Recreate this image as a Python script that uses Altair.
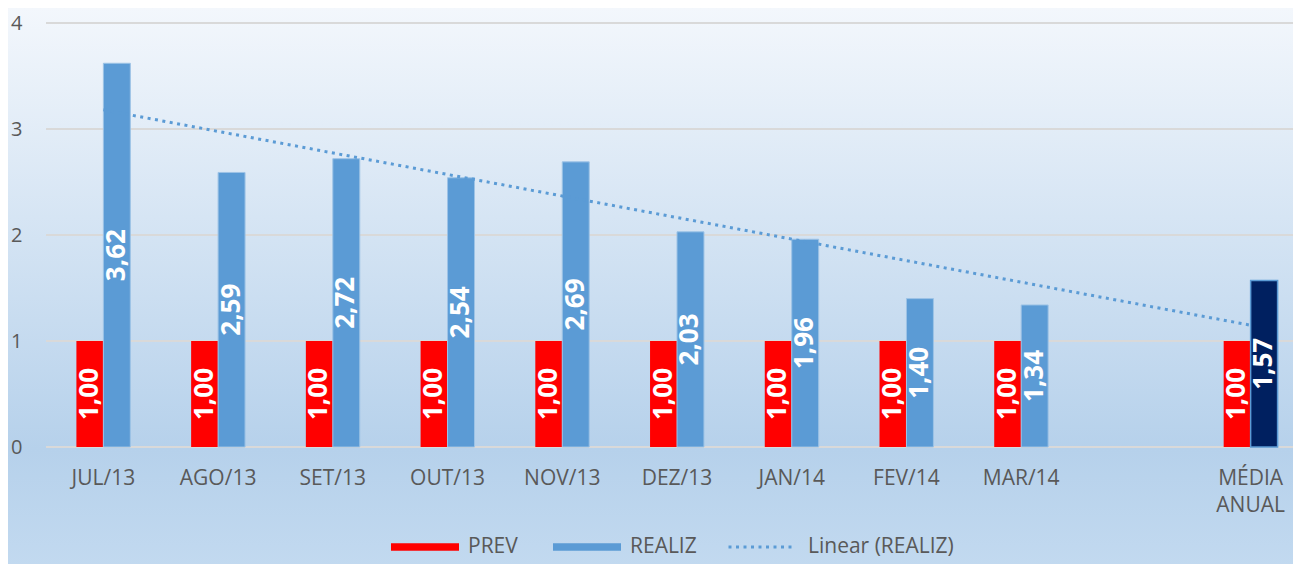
import altair as alt
import numpy as np
import pandas as pd

# ---- data ----
categories = ['JUL/13', 'AGO/13', 'SET/13', 'OUT/13', 'NOV/13', 'DEZ/13',
              'JAN/14', 'FEV/14', 'MAR/14', 'MÉDIA ANUAL']
axis_domain = categories[:9] + ['_'] + ['MÉDIA ANUAL']
prev = [1.00, 1.00, 1.00, 1.00, 1.00, 1.00, 1.00, 1.00, 1.00, 1.00]
realiz = [3.62, 2.59, 2.72, 2.54, 2.69, 2.03, 1.96, 1.40, 1.34, 1.57]
y_ticks = [0, 1, 2, 3, 4]
bar_series = ['PREV', 'REALIZ']
bar_colors = ['#FF0000', '#5B9BD5']
trend_name = 'Linear (REALIZ)'

rows = []
for c, p, r in zip(categories, prev, realiz):
    for s, v in (('PREV', p), ('REALIZ', r)):
        rows.append({'cat': c, 'series': s, 'value': v, 'mid': v / 2,
                     'label': f'{v:.2f}'.replace('.', ',')})
df = pd.DataFrame(rows)

# linear trendline of REALIZ over category positions (blank slot skipped)
xpos = np.array([axis_domain.index(c) + 1 for c in categories], dtype=float)
slope, intercept = np.polyfit(xpos, np.array(realiz), 1)
trend = pd.DataFrame({
    'cat': [categories[0], categories[-1]],
    'value': [slope * xpos[0] + intercept, slope * xpos[-1] + intercept],
    'series': [trend_name, trend_name],
})
grid_df = pd.DataFrame({'value': y_ticks})

FONT = 'Open Sans'
GRAY = '#595959'
BLUE = '#5B9BD5'
W, H = 1247, 424
PAD = {'left': 38, 'top': 15, 'right': 0, 'bottom': 117}
LEG_Y = 490

xscale = alt.Scale(domain=axis_domain, range=[0, 1262], paddingInner=0.53, paddingOuter=0.265)
xaxis = alt.Axis(title=None, labelAngle=0, ticks=False, domain=False, grid=False,
                 labelExpr="datum.value == '_' ? '' : split(datum.value, ' ')",
                 labelFontSize=21, labelColor=GRAY, labelFont=FONT,
                 labelPadding=20, labelLineHeight=27, zindex=1)
yscale = alt.Scale(domain=[0, 4], nice=False)
yaxis = alt.Axis(title=None, values=y_ticks, ticks=False, domain=False, grid=False,
                 labelFontSize=20, labelColor=GRAY, labelFont=FONT, labelPadding=24,
                 zindex=1)
xoff = alt.XOffset('series:N', scale=alt.Scale(domain=bar_series,
                                               paddingInner=0, paddingOuter=0))

color = alt.Color('series:N', scale=alt.Scale(domain=bar_series, range=bar_colors),
                  legend=alt.Legend(orient='none', legendX=345, legendY=LEG_Y,
                                    direction='horizontal', title=None, zindex=1,
                                    labelFontSize=21, labelColor=GRAY, labelFont=FONT,
                                    symbolSize=4624, symbolType='M-1,-0.11H1V0.11H-1Z',
                                    symbolStrokeWidth=0, columnPadding=35, labelOffset=9))
dash = alt.StrokeDash('series:N', scale=alt.Scale(domain=[trend_name], range=[[3, 4.5]]),
                      legend=alt.Legend(orient='none', legendX=681, legendY=LEG_Y,
                                        title=None, zindex=1, labelFontSize=21,
                                        labelColor=GRAY, labelFont=FONT,
                                        symbolType='stroke', symbolSize=4225,
                                        symbolStrokeColor=BLUE, symbolStrokeWidth=3,
                                        labelOffset=13))

bg = alt.Chart(alt.Data(values=[{'a': 1}])).mark_rect(
    fill=alt.LinearGradient(
        gradient='linear', x1=0, y1=0, x2=0, y2=1,
        stops=[alt.GradientStop(offset=0, color='#F3F7FC'),
               alt.GradientStop(offset=0.78, color='#B6D1EB'),
               alt.GradientStop(offset=1, color='#C3DAF0')])
).encode(x=alt.value(-PAD['left']), x2=alt.value(W + 60),
         y=alt.value(-PAD['top']), y2=alt.value(H + PAD['bottom'] + 10))

grid = alt.Chart(grid_df).mark_rule(color='#D9D9D9', strokeWidth=2).encode(
    y=alt.Y('value:Q', scale=yscale, axis=yaxis))

base = alt.Chart(df)
bars = base.mark_bar().encode(
    x=alt.X('cat:N', scale=xscale, axis=xaxis),
    xOffset=xoff,
    y=alt.Y('value:Q', scale=yscale, axis=yaxis),
    color=color,
    stroke=alt.condition("datum.series == 'REALIZ'", alt.value('#9DC3E6'),
                         alt.value('transparent')),
    strokeWidth=alt.value(1),
)
dark = base.transform_filter(
    "datum.cat == 'MÉDIA ANUAL' && datum.series == 'REALIZ'"
).mark_bar(fill='#002060', stroke=BLUE, strokeWidth=1.5).encode(
    x=alt.X('cat:N', scale=xscale, axis=xaxis),
    xOffset=xoff,
    y=alt.Y('value:Q', scale=yscale, axis=yaxis),
)
line = alt.Chart(trend).mark_line(color=BLUE, strokeWidth=3).encode(
    x=alt.X('cat:N', scale=xscale, axis=xaxis),
    y=alt.Y('value:Q', scale=yscale, axis=yaxis),
    strokeDash=dash,
)
text = base.mark_text(angle=270, color='white', fontSize=26, fontWeight='bold',
                      font=FONT, align='center', baseline='middle').encode(
    x=alt.X('cat:N', scale=xscale, axis=xaxis),
    xOffset=xoff,
    y=alt.Y('mid:Q', scale=yscale, axis=yaxis),
    text='label:N',
)

chart = alt.layer(bg, grid, bars, dark, line, text).properties(
    width=W, height=H,
    autosize=alt.AutoSizeParams(type='none'),
    padding=PAD,
).configure_view(stroke=None)

chart.save('out.html', embed_options={'renderer': 'svg', 'actions': False})
